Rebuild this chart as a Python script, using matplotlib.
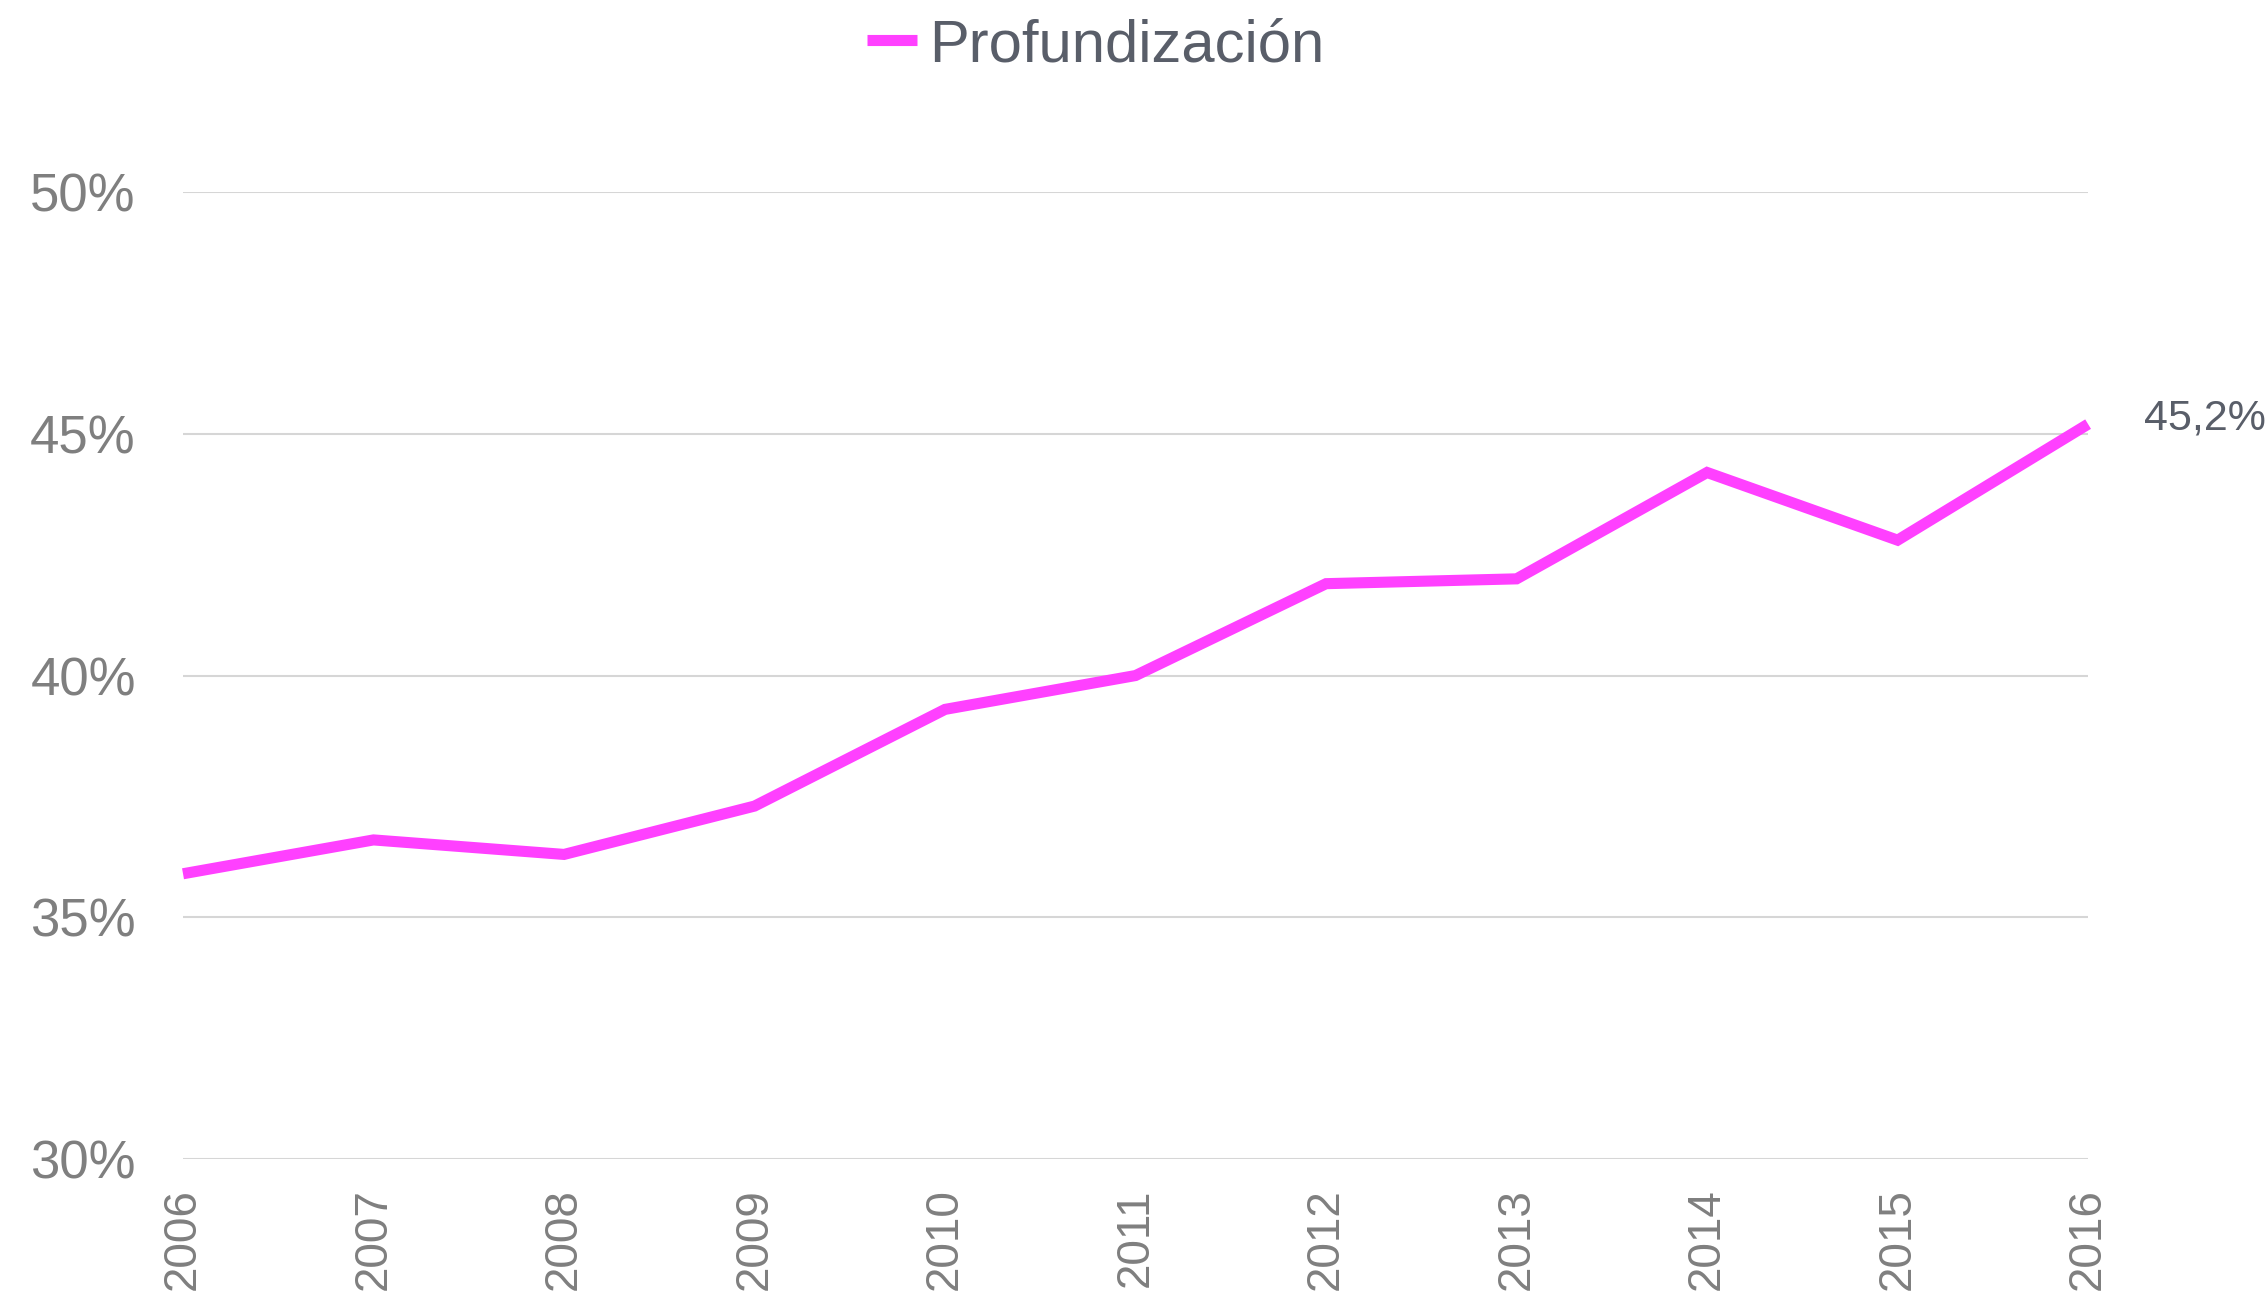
import matplotlib.pyplot as plt
from matplotlib.ticker import FuncFormatter

plt.rcParams['font.family'] = ['Liberation Sans', 'DejaVu Sans']

years = ['2006', '2007', '2008', '2009', '2010', '2011', '2012', '2013', '2014', '2015', '2016']
profundizacion = [35.9, 36.6, 36.3, 37.3, 39.3, 40.0, 41.9, 42.0, 44.2, 42.8, 45.2]
yticks = [30, 35, 40, 45, 50]
last_label = '45,2%'

pink = '#FF40FF'
tick_grey = '#7F7F7F'
text_dark = '#595E69'

fig = plt.figure(figsize=(22.65, 13.03), dpi=100)
ax = fig.add_axes([0.0808, 0.1105, 0.8411, 0.7421])

x = list(range(len(years)))
ax.plot(x, profundizacion, color=pink, linewidth=8, label='Profundización',
        clip_on=False, solid_capstyle='butt', solid_joinstyle='miter', zorder=3)

ax.set_xlim(0, len(years) - 1)
ax.set_ylim(30, 50)
ax.set_yticks(yticks)
ax.yaxis.set_major_formatter(FuncFormatter(lambda v, p: f'{v:.0f}%'))
ax.set_xticks(x)
ax.set_xticklabels(years, rotation=90)

ax.grid(axis='y', color='#D6D6D6', linewidth=1.5)
ax.set_axisbelow(True)
for s in ax.spines.values():
    s.set_visible(False)
ax.tick_params(axis='both', length=0, colors=tick_grey)
ax.tick_params(axis='y', pad=34, labelsize=38)
ax.tick_params(axis='x', pad=21, labelsize=33)

# etiqueta del ultimo valor
ax.annotate(last_label, xy=(x[-1], profundizacion[-1]), xytext=(40, 4),
            textcoords='offset points', fontsize=31, color=text_dark,
            va='center', ha='left', annotation_clip=False)

leg = fig.legend(loc='center', bbox_to_anchor=(0.4837, 0.965), frameon=False,
                 fontsize=43, handlelength=0.85, handletextpad=0.2)
for t in leg.get_texts():
    t.set_color(text_dark)
for h in leg.get_lines():
    h.set_linewidth(8)

fig.savefig('out.png', dpi=100)
